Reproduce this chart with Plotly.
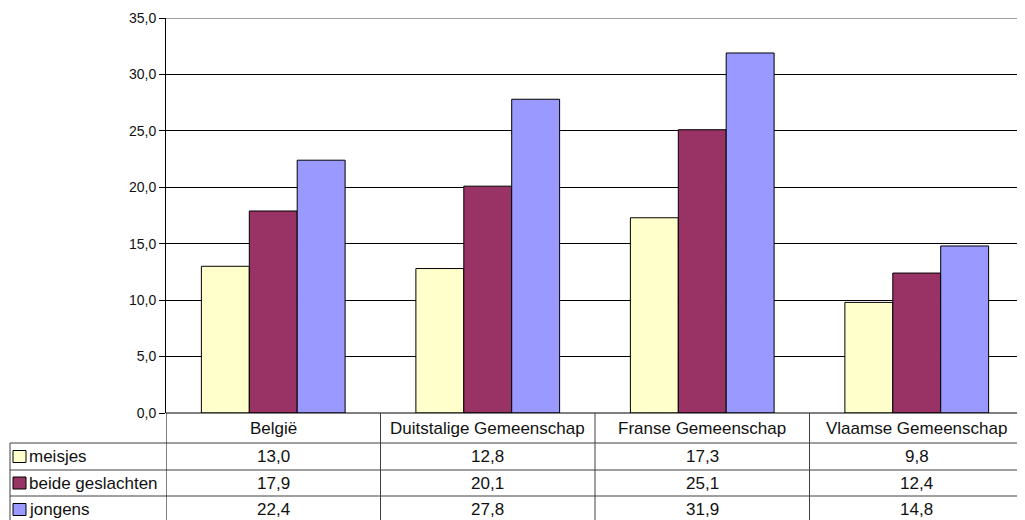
import plotly.graph_objects as go

categories = ['België', 'Duitstalige Gemeenschap', 'Franse Gemeenschap', 'Vlaamse Gemeenschap']
series_names = ['meisjes', 'beide geslachten', 'jongens']
meisjes = [13.0, 12.8, 17.3, 9.8]
beide = [17.9, 20.1, 25.1, 12.4]
jongens = [22.4, 27.8, 31.9, 14.8]
colors = ['#FFFFCC', '#993366', '#9999FF']

series = [meisjes, beide, jongens]

# the page body adds an 8px margin, so the figure is a bit smaller than the window
OFF = 8
W, H = 1017, 512
top, bottom, left, right = 10, 107, 158, 1
plot_w = W - left - right
plot_h = H - top - bottom
row_px = [30, 27, 26, 27]  # header row + three data rows


def py(px):
    # pixel offset below the x axis -> paper y
    return -px / plot_h


def px_(page_x):
    # page x -> paper x
    return (page_x - OFF - left) / plot_w


def fmt(v):
    return f'{v:.1f}'.replace('.', ',')


fig = go.Figure()
for name, vals, col in zip(series_names, series, colors):
    fig.add_trace(go.Bar(x=list(range(len(categories))), y=vals, name=name,
                         marker=dict(color=col, line=dict(color='black', width=1))))

fig.update_layout(
    width=W, height=H,
    margin=dict(l=left, r=right, t=top, b=bottom),
    plot_bgcolor='white', paper_bgcolor='white',
    barmode='group', bargap=0.33, bargroupgap=0,
    showlegend=False,
    separators=',.',
    font=dict(family='Liberation Sans, Arial', size=17, color='#111111'),
)
fig.update_yaxes(range=[0, 35], dtick=5, tickformat='.1f',
                 showgrid=True, gridcolor='black', gridwidth=1,
                 showline=True, linecolor='black', linewidth=1,
                 ticks='outside', ticklen=6, tickcolor='black',
                 tickfont=dict(size=14), zeroline=False)
fig.update_xaxes(range=[-0.5, len(categories) - 0.5], showticklabels=False,
                 showline=False, showgrid=False, zeroline=False)

# grey top line at 35
fig.add_shape(type='line', xref='paper', yref='y', x0=0, x1=1, y0=35, y1=35,
              line=dict(color='#808080', width=1.5), layer='above')

# table
line = dict(color='#404040', width=1)
edges = [0]
for h in row_px:
    edges.append(edges[-1] + h)
n = len(categories)
tl = px_(10)
# horizontal lines
fig.add_shape(type='line', xref='x', yref='paper', x0=-0.5, x1=n - 0.5,
              y0=py(0), y1=py(0), line=dict(color='black', width=1))
for e in edges[1:]:
    fig.add_shape(type='line', xref='paper', yref='paper', x0=tl, x1=1,
                  y0=py(e), y1=py(e), line=line)
# vertical lines
for i in range(n + 1):
    fig.add_shape(type='line', xref='x', yref='paper', x0=i - 0.5, x1=i - 0.5,
                  y0=py(0), y1=py(edges[-1]), line=dict(color='black' if i == 0 else '#404040', width=1))
fig.add_shape(type='line', xref='paper', yref='paper', x0=tl, x1=tl,
              y0=py(edges[1]), y1=py(edges[-1]), line=line)

# header labels
for i, c in enumerate(categories):
    fig.add_annotation(x=i, xref='x', y=py((edges[0] + edges[1]) / 2), yref='paper',
                       text=c, showarrow=False, xanchor='center', yanchor='middle')

# data rows
for r, (name, vals, col) in enumerate(zip(series_names, series, colors)):
    ymid = py((edges[r + 1] + edges[r + 2]) / 2)
    for i, v in enumerate(vals):
        fig.add_annotation(x=i, xref='x', y=ymid, yref='paper', text=fmt(v),
                           showarrow=False, xanchor='center', yanchor='middle')
    # legend key
    fig.add_shape(type='rect', xref='paper', yref='paper', x0=px_(13), x1=px_(26),
                  y0=ymid - 6 / plot_h, y1=ymid + 6 / plot_h,
                  fillcolor=col, line=dict(color='black', width=1))
    fig.add_annotation(x=px_(27), xref='paper', y=ymid, yref='paper',
                       text=name, showarrow=False, xanchor='left', yanchor='middle')

fig.write_html('out.html')
